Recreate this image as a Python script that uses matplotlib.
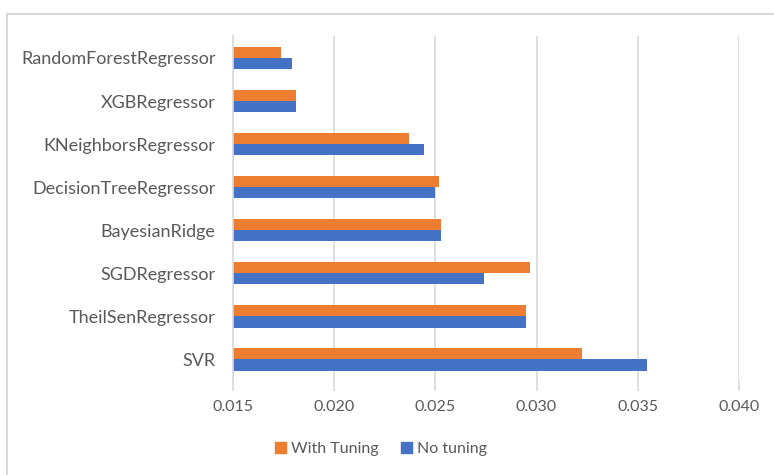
import numpy as np
import matplotlib.pyplot as plt
from matplotlib.lines import Line2D
from matplotlib.patches import Patch

# data
modelos = ['RandomForestRegressor', 'XGBRegressor', 'KNeighborsRegressor',
           'DecisionTreeRegressor', 'BayesianRidge', 'SGDRegressor',
           'TheilSenRegressor', 'SVR']
com_tuning = [0.01738, 0.01814, 0.02369, 0.02518, 0.02528, 0.02967, 0.02946, 0.03224]
sem_tuning = [0.01791, 0.01814, 0.02443, 0.02497, 0.02528, 0.02742, 0.02946, 0.03545]
xticks = [0.015, 0.020, 0.025, 0.030, 0.035, 0.040]

laranja = '#ED7D31'
azul = '#4472C4'
cinza = '#595959'
grade = '#D9D9D9'

plt.rcParams['font.family'] = ['Lato', 'DejaVu Sans']

fig = plt.figure(figsize=(7.74, 4.75), dpi=100)
ax = fig.add_axes([0.3007, 0.198, 0.6541, 0.7253])

y = np.arange(len(modelos))
h = 0.26
ax.barh(y - h / 2, com_tuning, height=h, left=0, color=laranja, zorder=3)
ax.barh(y + h / 2, sem_tuning, height=h, left=0, color=azul, zorder=3)

ax.set_xlim(0.015, 0.040)
ax.set_ylim(len(modelos) - 0.5, -0.5)
ax.set_xticks(xticks)
ax.set_xticklabels(['%.3f' % v for v in xticks])
ax.set_yticks(y)
ax.set_yticklabels(modelos)
ax.tick_params(axis='x', length=7, width=1.2, color=grade, labelsize=11.5,
               labelcolor=cinza, pad=7)
ax.tick_params(axis='y', length=0, labelsize=13, labelcolor=cinza, pad=12.5)
ax.grid(axis='x', color=grade, linewidth=1.2, zorder=0)
for s in ['top', 'right', 'bottom']:
    ax.spines[s].set_visible(False)
ax.spines['left'].set_color(grade)
ax.spines['left'].set_linewidth(1.2)
ax.spines['left'].set_zorder(4)

# outer chart border (only top and left visible in the crop)
fig.add_artist(Line2D([7 / 774, 1], [1 - 14 / 475, 1 - 14 / 475], color=grade, linewidth=1.5))
fig.add_artist(Line2D([7 / 774, 7 / 774], [0, 1 - 14 / 475], color=grade, linewidth=1.5))

handles = [Patch(color=laranja, label='With Tuning'), Patch(color=azul, label='No tuning')]
fig.legend(handles=handles, loc='center', bbox_to_anchor=(381 / 774, 1 - 449 / 475),
           ncol=2, frameon=False, fontsize=11.5, labelcolor=cinza,
           handlelength=0.7, handleheight=0.7, handletextpad=0.3, columnspacing=1.4)

fig.savefig('out.png', dpi=100, facecolor='white')
